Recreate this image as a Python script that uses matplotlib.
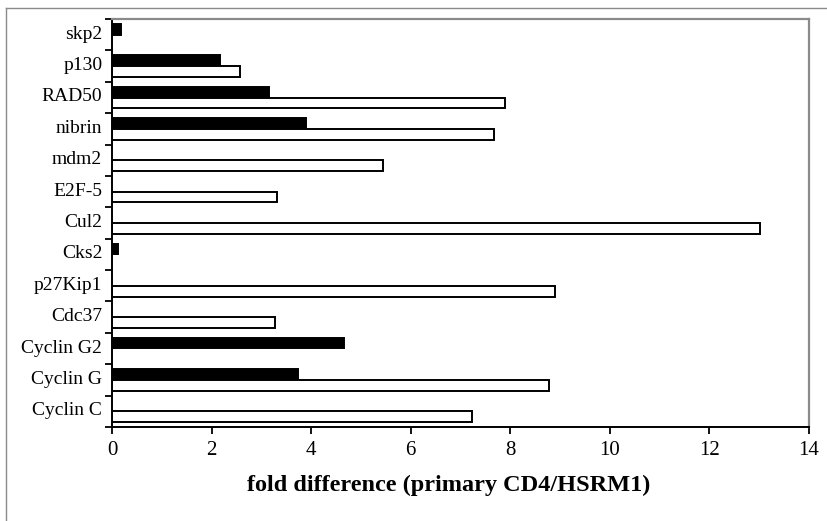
import matplotlib
matplotlib.use("Agg")
import matplotlib.pyplot as plt
from matplotlib.lines import Line2D
import numpy as np

categories = ["skp2", "p130", "RAD50", "nibrin", "mdm2", "E2F-5", "Cul2",
              "Cks2", "p27Kip1", "Cdc37", "Cyclin G2", "Cyclin G", "Cyclin C"]
black_values = [0.18, 2.17, 3.16, 3.90, 0, 0, 0, 0.13, 0, 0, 4.65, 3.74, 0]
white_values = [0, 2.58, 7.89, 7.68, 5.45, 3.31, 13.01, 0, 8.90, 3.27, 0, 8.78, 7.23]
xticks = [0, 2, 4, 6, 8, 10, 12, 14]
xlabel = "fold difference (primary CD4/HSRM1)"

plt.rcParams['font.family'] = ['Liberation Serif', 'DejaVu Serif']

fig = plt.figure(figsize=(8.28, 5.21), dpi=100)
ax = fig.add_axes([112/828, (521-427)/521, (809-112)/828, (427-19)/521])

n = len(categories)
y = np.arange(n)
h = 0.34
off = 0.175
for yi, bv, wv in zip(y, black_values, white_values):
    if bv > 0:
        ax.barh(yi - off, bv, height=h, color="black", edgecolor="black", linewidth=1.4)
    if wv > 0:
        ax.barh(yi + off, wv, height=h, color="white", edgecolor="black", linewidth=1.4)

ax.set_ylim(n - 0.5, -0.5)
ax.set_xlim(0, 14)
ax.set_xticks(xticks)
ax.set_xticklabels([str(t) for t in xticks], fontsize=15)
ax.set_yticks(y - 0.08)
ax.set_yticklabels(categories, fontsize=14)
ax.tick_params(axis='y', length=0, pad=7)
ax.set_yticks(np.arange(n + 1) - 0.5, minor=True)
ax.tick_params(axis='y', which='minor', length=5, width=1.3, direction='out')
ax.tick_params(axis='x', length=5, width=1.3, direction='out', pad=5)

for s in ["left", "bottom"]:
    ax.spines[s].set_color("black")
    ax.spines[s].set_linewidth(1.4)
for s in ["top", "right"]:
    ax.spines[s].set_color("#8a8a8a")
    ax.spines[s].set_linewidth(1.6)

ax.set_xlabel(xlabel, fontsize=17.5, fontweight='bold')
ax.xaxis.set_label_coords(0.483, -0.116)

fig.add_artist(Line2D([6/828, 6/828], [0, (521-8)/521], transform=fig.transFigure,
                      color="#8a8a8a", linewidth=1.0))
fig.add_artist(Line2D([6/828, 1], [(521-8)/521, (521-8)/521], transform=fig.transFigure,
                      color="#8a8a8a", linewidth=1.0))

fig.savefig("out.png", dpi=100)
